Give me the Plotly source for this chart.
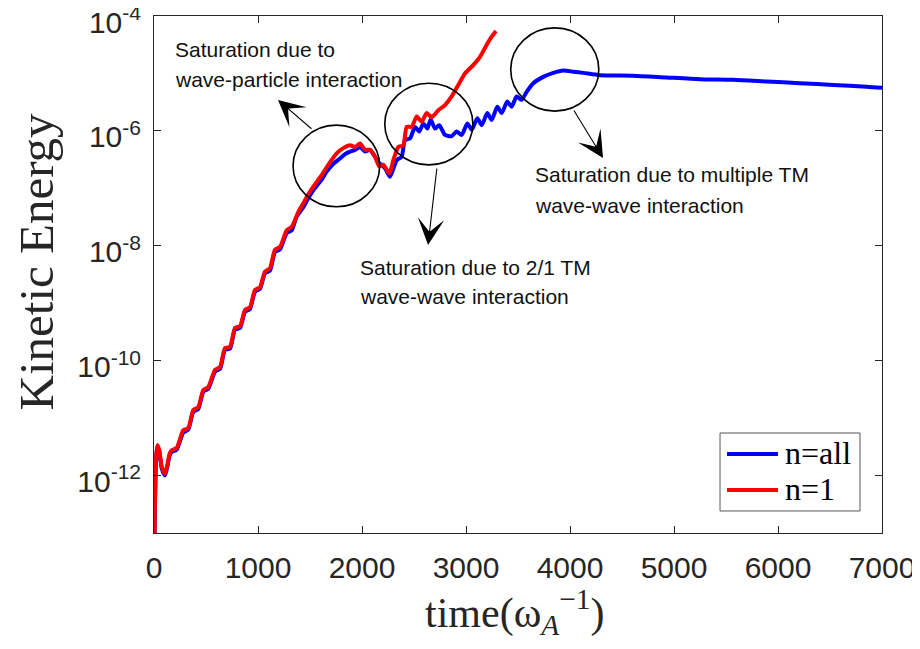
import numpy as np
import plotly.graph_objects as go

# ---------------- data ----------------
# time in units of 1/omega_A ; energy stored as log10 exponents
t_n1 = [0, 8, 20, 32, 50, 75, 106, 130, 150, 170, 218, 282, 330, 378, 426, 474, 522,
        587, 635, 683, 731, 779, 827, 875, 923, 971, 1019, 1067, 1115, 1163, 1212,
        1276, 1324, 1388, 1436, 1468, 1532, 1612, 1676, 1756, 1820, 1885, 1933, 1981,
        2029, 2077, 2125, 2167, 2205, 2263, 2301, 2349, 2397, 2430, 2478, 2526, 2574,
        2622, 2670, 2734, 2798, 2862, 2926, 2990, 3071, 3135, 3199, 3247, 3288]
logE_n1 = [-14.0, -12.6, -11.7, -11.47, -11.55, -11.85, -11.97, -11.8, -11.62, -11.56,
           -11.52, -11.21, -11.17, -10.86, -10.81, -10.51, -10.46, -10.16, -10.11, -9.78,
           -9.76, -9.43, -9.40, -9.12, -9.07, -8.77, -8.72, -8.45, -8.39, -8.07, -8.02,
           -7.73, -7.67, -7.41, -7.26, -7.15, -6.97, -6.77, -6.59, -6.39, -6.30, -6.25,
           -6.28, -6.22, -6.33, -6.33, -6.45, -6.62, -6.59, -6.74, -6.51, -6.28, -6.25,
           -5.93, -5.93, -5.75, -5.84, -5.69, -5.76, -5.64, -5.55, -5.40, -5.20, -5.00,
           -4.85, -4.71, -4.50, -4.36, -4.26]

t_all = [0, 8, 20, 32, 50, 75, 106, 130, 150, 170, 218, 282, 330, 378, 426, 474, 522,
         587, 635, 683, 731, 779, 827, 875, 923, 971, 1019, 1067, 1115, 1163, 1212,
         1276, 1324, 1372, 1436, 1468, 1532, 1612, 1660, 1720, 1788, 1840, 1885, 1933,
         1981, 2029, 2077, 2125, 2157, 2221, 2269, 2333, 2381, 2413, 2462, 2510, 2551,
         2590, 2628, 2660, 2702, 2743, 2798, 2862, 2910, 2958, 3013, 3055, 3109, 3151,
         3205, 3247, 3301, 3343, 3397, 3439, 3487, 3535, 3583, 3647, 3743, 3840, 3936,
         4032, 4128, 4288, 4609, 4929, 5250, 5571, 5891, 6212, 6532, 6853, 7000]
logE_all = [-14.0, -12.65, -11.75, -11.5, -11.58, -11.88, -12.0, -11.83, -11.65, -11.59,
            -11.55, -11.25, -11.2, -10.89, -10.84, -10.54, -10.49, -10.19, -10.14, -9.81,
            -9.79, -9.46, -9.43, -9.15, -9.10, -8.80, -8.75, -8.48, -8.43, -8.11, -8.06,
            -7.78, -7.73, -7.49, -7.33, -7.22, -7.03, -6.85, -6.71, -6.58, -6.48, -6.40,
            -6.36, -6.33, -6.28, -6.36, -6.33, -6.45, -6.54, -6.65, -6.80, -6.51, -6.45,
            -6.16, -6.13, -5.93, -6.01, -5.87, -5.96, -5.80, -5.96, -5.90, -6.07, -6.09,
            -6.01, -6.07, -5.87, -5.98, -5.78, -5.90, -5.69, -5.81, -5.58, -5.69, -5.49,
            -5.58, -5.40, -5.46, -5.32, -5.17, -5.06, -4.99, -4.95, -4.97, -4.99, -5.03,
            -5.04, -5.07, -5.10, -5.11, -5.14, -5.17, -5.20, -5.23, -5.25]

series_names = ["n=all", "n=1"]
series_colors = ["#0000ff", "#ff0000"]
x_ticks = [0, 1000, 2000, 3000, 4000, 5000, 6000, 7000]
y_tick_exps = [-12, -10, -8, -6, -4]
y_tick_labels = ["10<sup>-12</sup>", "10<sup>-10</sup>", "10<sup>-8</sup>",
                 "10<sup>-6</sup>", "10<sup>-4</sup>"]

E_all = np.power(10.0, logE_all)
E_n1 = np.power(10.0, logE_n1)

# ---------------- figure ----------------
SANS = "Liberation Sans, Arial, sans-serif"
SERIF = "Liberation Serif, Times New Roman, serif"
AXC = "#262626"

fig = go.Figure()
fig.add_trace(go.Scatter(x=t_all, y=E_all, mode="lines", name=series_names[0],
                         showlegend=False,
                         line=dict(color=series_colors[0], width=4, shape="spline",
                                   smoothing=0.6)))
fig.add_trace(go.Scatter(x=t_n1, y=E_n1, mode="lines", name=series_names[1],
                         showlegend=False,
                         line=dict(color=series_colors[1], width=4, shape="spline",
                                   smoothing=0.6)))

# page body has an 8px default margin, so the figure is 16px smaller
fig.update_layout(
    width=912, height=641,
    margin=dict(l=146, r=38, t=8, b=116, autoexpand=False),
    paper_bgcolor="white", plot_bgcolor="white",
    showlegend=False,
    xaxis=dict(range=[0, 7000], tickvals=x_ticks, ticks="inside", ticklen=7,
               tickcolor=AXC, showline=True, linecolor=AXC, linewidth=1,
               mirror="ticks", showgrid=False, zeroline=False, automargin=False,
               tickfont=dict(family=SANS, size=30, color=AXC),
               ticklabelstandoff=8, ticklabeloverflow="allow"),
    yaxis=dict(type="log", range=[-13, -4],
               tickvals=[10.0 ** e for e in y_tick_exps], ticktext=y_tick_labels,
               ticks="inside", ticklen=7, tickcolor=AXC, showline=True,
               linecolor=AXC, linewidth=1, mirror="ticks", showgrid=False,
               zeroline=False, automargin=False,
               tickfont=dict(family=SANS, size=30, color=AXC),
               ticklabelstandoff=6, ticklabelshift=6, ticklabeloverflow="allow"),
)

# legend box (MATLAB-style)
fig.add_shape(type="rect", xref="paper", yref="paper",
              x0=0.7775, x1=0.9698, y0=0.0426, y1=0.1934,
              line=dict(color="#555555", width=1), fillcolor="white", layer="above")
for i, (ly, ty) in enumerate([(0.1528, 0.1547), (0.0832, 0.0851)]):
    fig.add_shape(type="line", xref="paper", yref="paper",
                  x0=0.7871, x1=0.8571, y0=ly, y1=ly, layer="above",
                  line=dict(color=series_colors[i], width=4))
    fig.add_annotation(xref="paper", yref="paper", x=0.8640, y=ty,
                       text=series_names[i], showarrow=False,
                       xanchor="left", yanchor="middle",
                       font=dict(family=SERIF, size=32, color="#000000"))

# axis titles
fig.add_annotation(xref="paper", yref="paper", x=-0.1615, y=0.526,
                   text="Kinetic Energy", textangle=-90, showarrow=False,
                   xanchor="center", yanchor="middle",
                   font=dict(family=SERIF, size=49, color=AXC))
fig.add_annotation(xref="paper", yref="paper", x=0.496, y=-0.152,
                   text="time(ω<sub><i>A</i></sub><sup>−1</sup>)", showarrow=False,
                   xanchor="center", yanchor="middle",
                   font=dict(family=SERIF, size=42, color=AXC))

# circles
for x0, x1, y0, y1 in [(0.191, 0.310, 0.631, 0.789),
                       (0.317, 0.438, 0.712, 0.870),
                       (0.490, 0.611, 0.816, 0.977)]:
    fig.add_shape(type="circle", xref="paper", yref="paper",
                  x0=x0, x1=x1, y0=y0, y1=y1,
                  line=dict(color="black", width=1.6))

# arrows
for x, y, ax, ay in [(0.1703, 0.8375, 35, 30),
                     (0.3764, 0.5571, 9, -78),
                     (0.6168, 0.7253, -30, -49)]:
    fig.add_annotation(xref="paper", yref="paper", x=x, y=y, ax=ax, ay=ay,
                       text="", showarrow=True, arrowhead=3, arrowsize=4,
                       arrowwidth=1.1, arrowcolor="black")

# annotation texts
texts = [
    (0.0255, 0.936, "Saturation due to"),
    (0.0255, 0.878, "wave-particle interaction"),
    (0.280, 0.5145, "Saturation due to 2/1 TM"),
    (0.280, 0.4565, "wave-wave interaction"),
    (0.5205, 0.6925, "Saturation due to multiple TM"),
    (0.5205, 0.6344, "wave-wave interaction"),
]
for x, y, s in texts:
    fig.add_annotation(xref="paper", yref="paper", x=x, y=y, text=s,
                       showarrow=False, xanchor="left", yanchor="middle",
                       font=dict(family=SANS, size=21, color="#111111"))

fig.write_html("out.html")
